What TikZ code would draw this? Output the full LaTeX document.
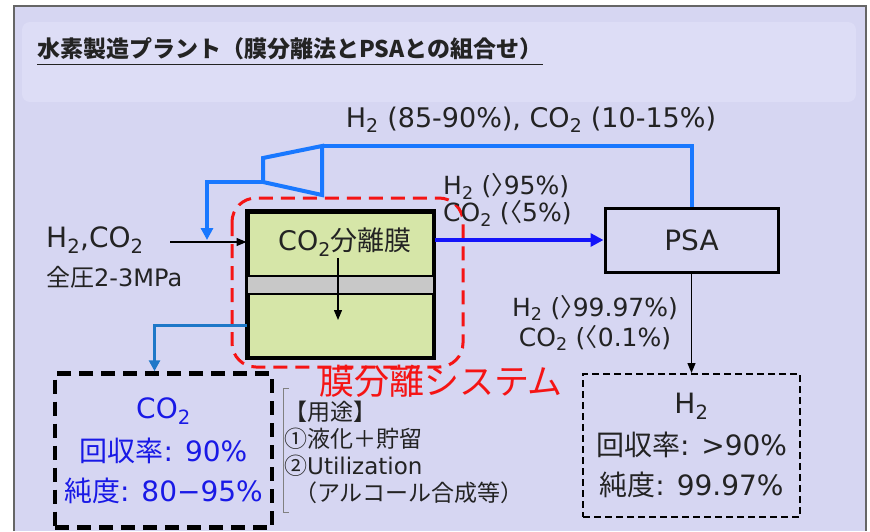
\documentclass[tikz,border=0pt]{standalone}
\usepackage{fontspec}
\setmainfont{DejaVu Sans}
\newfontfamily\jp{Noto Sans CJK JP}
\newfontfamily\jph{Noto Sans CJK JP}[RawFeature=+halt]
\usetikzlibrary{arrows.meta}
\definecolor{panel}{RGB}{214,214,242}
\definecolor{titlebg}{RGB}{221,221,246}
\definecolor{memgreen}{RGB}{214,230,168}
\definecolor{memgray}{RGB}{200,200,200}
\definecolor{recyblue}{RGB}{25,120,255}
\definecolor{flowblue}{RGB}{20,20,250}
\definecolor{outblue}{RGB}{30,120,200}
\definecolor{txtblue}{RGB}{25,25,230}
\definecolor{redsys}{RGB}{245,20,20}
\definecolor{txt}{RGB}{35,35,35}
\newcommand\fsz[1]{\fontsize{#1}{#1}\selectfont}
\newcommand\lang{\smash{\jph 〉}}
\newcommand\rang{\smash{\jph 〈}}
\begin{document}
\begin{tikzpicture}[x=1pt,y=-1pt,
  lbl/.style={text=txt, inner sep=0pt},
  solidbox/.style={draw=black, line width=3pt, inner sep=0pt},
  thinarrow/.style={draw=black, line width=1.3pt, -{Triangle[length=10pt,width=8pt]}},
  recy/.style={draw=recyblue, line width=4pt, line join=miter},
  flow/.style={draw=flowblue, line width=4pt, -{Triangle[length=13pt,width=13pt]}},
  outlet/.style={draw=outblue, line width=3pt, -{Triangle[length=11pt,width=11pt]}},
  thickdash/.style={draw=black, line width=4.5pt, dash pattern=on 14pt off 8pt, inner sep=0pt},
  thindash/.style={draw=black, line width=2pt, dash pattern=on 7pt off 4pt, inner sep=0pt}]
\useasboundingbox (0,0) rectangle (870,531);
\fill[white] (0,0) rectangle (870,531);
\fill[panel] (14,6) rectangle (866,531);
\draw[gray!80!black, line width=2pt] (14,531) -- (14,6) -- (866,6) -- (866,531);
\fill[titlebg, rounded corners=8pt] (22,22) rectangle (856,102);

% title
\node[lbl, anchor=west, font=\fsz{23}\jp\bfseries] (title) at (37,49) {水素製造プラント（膜分離法とPSAとの組合せ）};
\draw[txt, line width=1.3pt] ([yshift=-4pt]title.south west) -- ([yshift=-4pt]title.south east);

% membrane unit
\node[solidbox, fill=memgreen, minimum width=185pt, minimum height=145pt] (mem) at (340.5,284.5) {};
\fill[memgray] (mem.west |- 0,276) rectangle (mem.east |- 0,294);
\draw[line width=2.5pt] (mem.west |- 0,276) -- (mem.east |- 0,276);
\draw[line width=2.5pt] (mem.west |- 0,294) -- (mem.east |- 0,294);
\draw[line width=3pt] (mem.north west) rectangle (mem.south east);
\node[lbl, font=\fsz{27}] (memlbl) at (345,242) {CO\textsubscript{2}{\jp 分離膜}};
\coordinate (permA) at (338,258);
\coordinate (permB) at (338,320);
\draw[thinarrow] (permA) -- (permB);

% red system frame
\draw[redsys, line width=3pt, dash pattern=on 14pt off 8pt, rounded corners=24pt] (232,198) rectangle (463,367);
\node[text=redsys, inner sep=0pt, font=\fsz{35}\jp] (sys) at (441,381) {膜分離システム};

% PSA
\node[solidbox, minimum width=173pt, minimum height=64pt, font=\fsz{28}, text=txt] (psa) at (691.5,240) {PSA};

% compressor and recycle
\coordinate (c1) at (322,146);
\coordinate (c2) at (263,158);
\coordinate (c3) at (263,182);
\coordinate (c4) at (322,195);
\coordinate (join) at (207,240);
\draw[recy] (c1) -- (c2) -- (c3) -- (c4) -- cycle;
\draw[recy] (psa.north) |- (c1);
\draw[recy, -{Triangle[length=12pt,width=12pt]}] (c3) -| (join);
\node[lbl, font=\fsz{27}] (reclbl) at (531,120) {H\textsubscript{2} (85-90\%), CO\textsubscript{2} (10-15\%)};

% feed
\node[lbl, anchor=west, font=\fsz{28}] (feed1) at (46,240) {H\textsubscript{2},CO\textsubscript{2}};
\node[lbl, anchor=west, font=\fsz{24}] (feed2) at (46,277) {{\jp 全圧}2-3MPa};
\coordinate (feedA) at (170,242);
\draw[thinarrow] (feedA) -- (mem.west |- feedA);

% membrane -> PSA
\draw[flow] (mem.east |- psa.west) -- (psa.west);
\node[lbl, anchor=west, align=left, font=\fsz{25}] (retlbl) at (443,201)
  {H\textsubscript{2} (\lang95\%)\\[2pt]CO\textsubscript{2} (\rang5\%)};

% PSA -> H2 product
\node[thindash, minimum width=217pt, minimum height=143pt, align=center, font=\fsz{28}, text=txt] (h2) at (691.5,445.5)
  {H\textsubscript{2}\\[12pt]{\jp 回収率}: >90\%\\[12pt]{\jp 純度}: 99.97\%};
\draw[thinarrow] (psa.south) -- (h2.north);
\node[lbl, align=center, font=\fsz{25}] (prodlbl) at (595,324)
  {H\textsubscript{2} (\lang99.97\%)\\[5pt]CO\textsubscript{2} (\rang0.1\%)};

% CO2 product
\node[thickdash, minimum width=217pt, minimum height=154pt, align=center, font=\fsz{28}, text=txtblue] (co2) at (163.5,450.5)
  {CO\textsubscript{2}\\[12pt]{\jp 回収率}: 90\%\\[12pt]{\jp 純度}: 80\textminus95\%};
\draw[outlet] (mem.west |- 0,325) -| ([xshift=-9pt]co2.north);

% usage
\draw[gray, line width=1pt] (289,388) -- (283,388) -- (283,512) -- (289,512);
\node[lbl, anchor=west, align=left, font=\fsz{23}] (use) at (284,452)
  {{\jp 【用途】}\\[4pt]{\jp ①液化＋貯留}\\[4pt]{\jp ②}Utilization\\[4pt]\hspace{10pt}{\jp （アルコール合成等）}};
\end{tikzpicture}
\end{document}
